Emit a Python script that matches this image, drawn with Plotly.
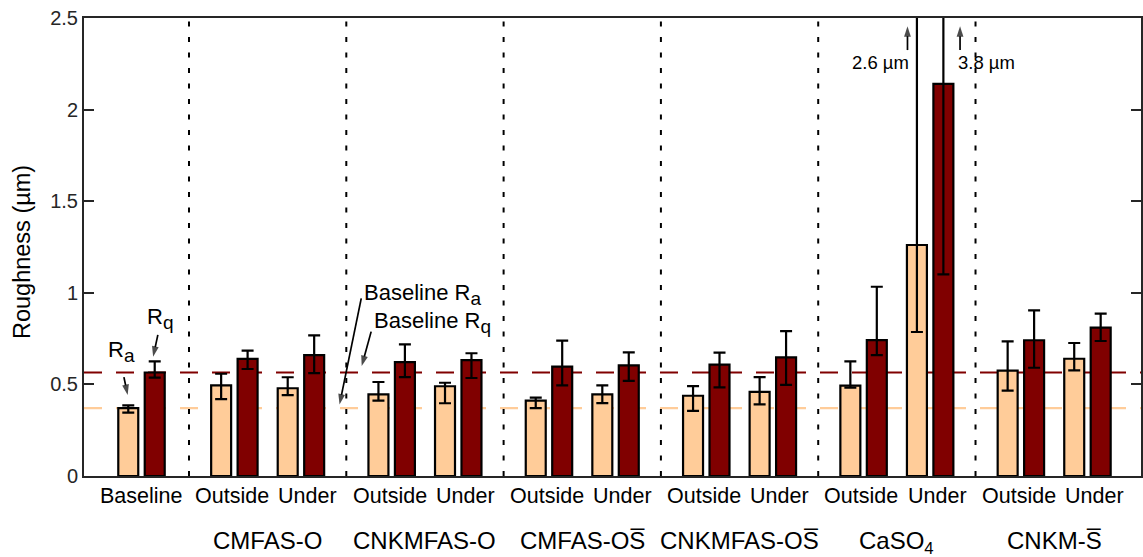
import plotly.graph_objects as go

# ---- data -------------------------------------------------------------
group_names = ["Baseline", "CMFAS-O", "CNKMFAS-O", "CMFAS-OS\u0305",
               "CNKMFAS-OS\u0305", "CaSO<sub>4</sub>", "CNKM-S\u0305"]

# one entry per sample (baseline + Outside/Under for each coating)
sample_group = [0, 1, 1, 2, 2, 3, 3, 4, 4, 5, 5, 6, 6]
sample_site = ["Baseline", "Outside", "Under", "Outside", "Under", "Outside", "Under",
               "Outside", "Under", "Outside", "Under", "Outside", "Under"]

ra_mean = [0.370, 0.495, 0.479, 0.446, 0.490, 0.411, 0.446, 0.438, 0.459, 0.493, 1.261, 0.575, 0.640]
ra_upper = [0.386, 0.558, 0.539, 0.513, 0.509, 0.428, 0.495, 0.491, 0.540, 0.626, 2.6, 0.735, 0.726]
ra_lower = [0.346, 0.420, 0.441, 0.411, 0.397, 0.371, 0.398, 0.355, 0.391, 0.482, 0.786, 0.466, 0.577]

rq_mean = [0.565, 0.639, 0.660, 0.622, 0.633, 0.597, 0.604, 0.608, 0.648, 0.742, 2.140, 0.741, 0.810]
rq_upper = [0.626, 0.684, 0.768, 0.719, 0.670, 0.739, 0.675, 0.673, 0.791, 1.033, 3.8, 0.904, 0.886]
rq_lower = [0.537, 0.584, 0.562, 0.540, 0.535, 0.495, 0.519, 0.484, 0.497, 0.660, 1.101, 0.591, 0.737]

y_ticks = [0, 0.5, 1, 1.5, 2, 2.5]
y_tick_text = ["0", "0.5", "1", "1.5", "2", "2.5"]

# ---- styling / layout constants ---------------------------------------
RA_COLOR = "#FFCC99"
RQ_COLOR = "#800000"
AXIS_COLOR = "#262626"
FONT = "Liberation Sans, Arial, sans-serif"

SITE_OFFSET = {"Baseline": 0.198, "Outside": -0.2116, "Under": 0.2116}
LABEL_OFFSET = {"Baseline": 0.195, "Outside": -0.225, "Under": 0.256}
PAIR_OFFSET = 0.0841
BAR_WIDTH = 0.127
X_RANGE = [-0.1675, 6.552]
Y_RANGE = [0, 2.5]

centers = [g + SITE_OFFSET[s] for g, s in zip(sample_group, sample_site)]
x_ra = [c - PAIR_OFFSET for c in centers]
x_rq = [c + PAIR_OFFSET for c in centers]


def err(mean, upper, lower):
    return ([u - m for m, u in zip(mean, upper)],
            [m - l for m, l in zip(mean, lower)])


ra_plus, ra_minus = err(ra_mean, ra_upper, ra_lower)
rq_plus, rq_minus = err(rq_mean, rq_upper, rq_lower)

fig = go.Figure()


def add_bars(x, y, plus, minus, color, name):
    fig.add_trace(go.Bar(
        x=x, y=y, width=[BAR_WIDTH] * len(x), name=name,
        marker=dict(color=color, line=dict(color="black", width=2.2)),
        error_y=dict(type="data", symmetric=False, array=plus, arrayminus=minus,
                     color="black", thickness=2.2, width=6),
        showlegend=False, hoverinfo="skip",
    ))


add_bars(x_ra, ra_mean, ra_plus, ra_minus, RA_COLOR, "Ra")
add_bars(x_rq, rq_mean, rq_plus, rq_minus, RQ_COLOR, "Rq")


def add_arrow(x_tail, y_tail, x_head, y_head, head_size=11):
    """Straight pointer with a filled arrowhead at the head end."""
    fig.add_trace(go.Scatter(
        x=[x_tail, x_head], y=[y_tail, y_head], mode="lines+markers",
        line=dict(color="black", width=1.7),
        marker=dict(symbol=["circle", "arrow"], size=[0, head_size],
                    angleref="previous", color="black", line=dict(width=0)),
        showlegend=False, hoverinfo="skip", cliponaxis=False,
    ))


shapes = []
# baseline reference lines
for val, col in [(ra_mean[0], RA_COLOR), (rq_mean[0], RQ_COLOR)]:
    shapes.append(dict(type="line", xref="x", yref="y", x0=X_RANGE[0], x1=X_RANGE[1],
                       y0=val, y1=val, layer="below",
                       line=dict(color=col, width=2.2, dash="18px,14px")))
# dotted separators between coatings
for g in range(len(group_names) - 1):
    shapes.append(dict(type="line", xref="x", yref="y", x0=g + 0.5, x1=g + 0.5,
                       y0=Y_RANGE[0], y1=Y_RANGE[1], layer="below",
                       line=dict(color="black", width=2, dash="5px,10.5px")))

annotations = []
# first row of category labels
for g, s in zip(sample_group, sample_site):
    annotations.append(dict(x=g + LABEL_OFFSET[s], y=0, xref="x", yref="paper",
                            text=s, showarrow=False, yanchor="middle", yshift=-20,
                            font=dict(family=FONT, size=21.5, color="black")))
# second row: coating names
for g, name in enumerate(group_names):
    if g == 0:
        continue
    annotations.append(dict(x=g, y=0, xref="x", yref="paper", text=name,
                            showarrow=False, yanchor="top", yshift=-49,
                            font=dict(family=FONT, size=24, color="black")))

# y-axis title
annotations.append(dict(x=0, y=0.489, xref="paper", yref="paper", text="Roughness (µm)",
                        textangle=-90, showarrow=False, xanchor="center", yanchor="middle",
                        xshift=-62, font=dict(family=FONT, size=23.5, color="black")))

TXT = dict(family=FONT, size=22, color="black")
SUB = "<sub><span style='font-size:19px'>{}</span></sub>"

# Ra / Rq pointers on the baseline bars
annotations.append(dict(x=0.0736, y=0.677, xref="x", yref="y", text="R" + SUB.format("a"),
                        showarrow=False, font=TXT))
add_arrow(0.0863, 0.540, 0.110, 0.442)
annotations.append(dict(x=0.315, y=0.862, xref="x", yref="y", text="R" + SUB.format("q"),
                        showarrow=False, font=TXT))
add_arrow(0.302, 0.770, 0.272, 0.651)

# baseline reference line labels
annotations.append(dict(x=1.602, y=0.992, xref="x", yref="y",
                        text="Baseline R" + SUB.format("a"),
                        showarrow=False, xanchor="left", font=TXT))
add_arrow(1.595, 0.970, 1.457, ra_mean[0] + 0.02)
annotations.append(dict(x=1.665, y=0.836, xref="x", yref="y",
                        text="Baseline R" + SUB.format("q"),
                        showarrow=False, xanchor="left", font=TXT))
add_arrow(1.658, 0.788, 1.598, 0.600)

# off-scale error bar tops for CaSO4 Under
i_under = 10
UM = dict(family=FONT, size=18.5, color="black")
annotations.append(dict(x=x_ra[i_under] - 0.035, y=2.257, xref="x", yref="y",
                        text=f"{ra_upper[i_under]:.1f} µm", showarrow=False, xanchor="right",
                        font=UM))
add_arrow(x_ra[i_under] - 0.06, 2.325, x_ra[i_under] - 0.06, 2.455)
annotations.append(dict(x=x_rq[i_under] + 0.082, y=2.257, xref="x", yref="y",
                        text=f"{rq_upper[i_under]:.1f} µm", showarrow=False, xanchor="left",
                        font=UM))
add_arrow(x_rq[i_under] + 0.106, 2.325, x_rq[i_under] + 0.106, 2.455)

fig.update_layout(
    width=1143, height=557,
    margin=dict(l=84, r=0, t=18, b=81, pad=0),
    paper_bgcolor="white", plot_bgcolor="white",
    barmode="overlay",
    shapes=shapes, annotations=annotations,
    font=dict(family=FONT, color=AXIS_COLOR),
    xaxis=dict(range=X_RANGE, showticklabels=False, ticks="", showgrid=False,
               zeroline=False, showline=True, mirror=True, linecolor=AXIS_COLOR,
               linewidth=2),
    yaxis=dict(range=Y_RANGE, tickvals=y_ticks, ticktext=y_tick_text, ticks="inside",
               ticklen=10, tickwidth=2, tickcolor=AXIS_COLOR, showgrid=False,
               zeroline=False, showline=True, mirror="ticks", linecolor=AXIS_COLOR,
               linewidth=2, tickfont=dict(family=FONT, size=20, color=AXIS_COLOR)),
)

fig.write_html("out.html")
